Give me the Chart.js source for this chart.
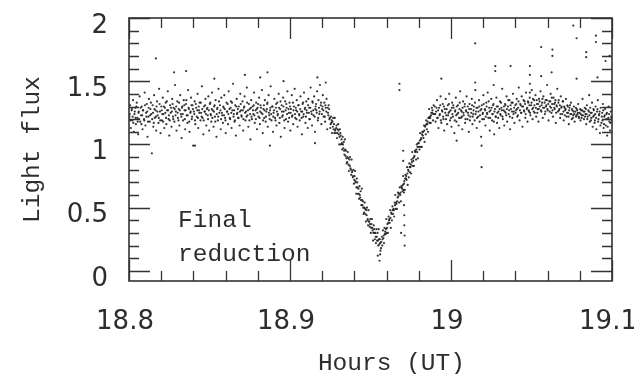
<!DOCTYPE html>
<html lang="en">
<head>
    <meta charset="UTF-8">
    <title>Light flux - final reduction</title>
    <style>
        body {
            margin: 0;
            padding: 0;
            background: #ffffff;
        }
        #chart {
            display: block;
        }
    </style>
</head>
<body>

    <canvas id="chart" width="634" height="374"></canvas>

    <script src="https://cdn.jsdelivr.net/npm/chart.js"></script>
    <script>
        // [hours UT, light flux]
        const leftBand = [
            [18.8003,1.22],[18.8007,1.31],[18.8012,1.13],[18.8016,1.27],[18.8021,1.19],[18.8025,1.35],[18.8030,1.10],[18.8034,1.24],[18.8039,1.29],[18.8043,1.16],
            [18.8048,1.33],[18.8052,1.21],[18.8057,1.08],[18.8061,1.26],[18.8066,1.38],[18.8070,1.18],[18.8075,1.23],[18.8079,1.30],[18.8084,1.12],[18.8088,1.27],
            [18.8093,1.20],[18.8097,1.41],[18.8102,1.15],[18.8106,1.25],[18.8111,1.32],[18.8115,1.06],[18.8120,1.22],[18.8124,1.36],[18.8129,1.18],[18.8133,1.28],
            [18.8138,1.24],[18.8142,0.93],[18.8147,1.31],[18.8151,1.14],[18.8156,1.39],[18.8160,1.21],[18.8165,1.27],[18.8169,1.11],[18.8174,1.34],[18.8178,1.23],
            [18.8183,1.17],[18.8187,1.44],[18.8192,1.26],[18.8196,1.09],[18.8201,1.30],[18.8205,1.19],[18.8210,1.37],[18.8214,1.24],[18.8219,1.13],[18.8223,1.29],
            [18.8228,1.33],[18.8232,1.16],[18.8237,1.27],[18.8241,1.42],[18.8246,1.20],[18.8250,1.07],[18.8255,1.31],[18.8259,1.25],[18.8264,1.14],[18.8268,1.36],
            [18.8273,1.22],[18.8277,1.29],[18.8282,1.18],[18.8286,1.47],[18.8291,1.26],[18.8295,1.11],[18.8300,1.34],[18.8304,1.21],[18.8309,1.28],[18.8313,1.15],
            [18.8318,1.39],[18.8322,1.24],[18.8327,1.05],[18.8331,1.30],[18.8336,1.19],[18.8340,1.35],[18.8345,1.27],[18.8349,1.12],[18.8354,1.32],[18.8358,1.23],
            [18.8363,1.17],[18.8367,1.43],[18.8372,1.28],[18.8376,1.10],[18.8381,1.25],[18.8385,1.37],[18.8390,1.20],[18.8394,1.31],[18.8399,0.99],[18.8403,1.26],
            [18.8408,1.34],[18.8412,1.16],[18.8417,1.29],[18.8421,1.22],[18.8426,1.40],[18.8430,1.13],[18.8435,1.27],[18.8439,1.33],[18.8444,1.19],[18.8448,1.25],
            [18.8453,1.46],[18.8457,1.21],[18.8462,1.08],[18.8466,1.30],[18.8471,1.26],[18.8475,1.36],[18.8480,1.15],[18.8484,1.28],[18.8489,1.23],[18.8493,1.38],
            [18.8498,1.11],[18.8502,1.32],[18.8507,1.24],[18.8511,1.18],[18.8516,1.41],[18.8520,1.27],[18.8525,1.14],[18.8529,1.30],[18.8534,1.22],[18.8538,1.35],
            [18.8543,1.06],[18.8547,1.28],[18.8552,1.19],[18.8556,1.44],[18.8561,1.25],[18.8565,1.31],[18.8570,1.12],[18.8574,1.37],[18.8579,1.23],[18.8583,1.17],
            [18.8588,1.29],[18.8592,1.39],[18.8597,1.21],[18.8601,1.09],[18.8606,1.33],[18.8610,1.26],[18.8615,1.16],[18.8619,1.42],[18.8624,1.28],[18.8628,1.20],
            [18.8633,1.34],[18.8637,1.13],[18.8642,1.27],[18.8646,1.48],[18.8651,1.24],[18.8655,1.18],[18.8660,1.31],[18.8664,1.07],[18.8669,1.36],[18.8673,1.25],
            [18.8678,1.21],[18.8682,1.30],[18.8687,1.15],[18.8691,1.40],[18.8696,1.27],[18.8700,1.22],[18.8705,1.34],[18.8709,1.11],[18.8714,1.29],[18.8718,1.38],
            [18.8723,1.19],[18.8727,1.26],[18.8732,1.45],[18.8736,1.23],[18.8741,1.14],[18.8745,1.32],[18.8750,1.28],[18.8754,1.04],[18.8759,1.35],[18.8763,1.20],
            [18.8768,1.30],[18.8772,1.24],[18.8777,1.41],[18.8781,1.17],[18.8786,1.27],[18.8790,1.33],[18.8795,1.12],[18.8799,1.29],[18.8804,1.22],[18.8808,1.37],
            [18.8813,1.16],[18.8817,1.31],[18.8822,1.25],[18.8826,1.43],[18.8831,1.09],[18.8835,1.28],[18.8840,1.21],[18.8844,1.35],[18.8849,1.18],[18.8853,1.26],
            [18.8858,1.32],[18.8862,1.14],[18.8867,1.39],[18.8871,1.23],[18.8876,1.27],[18.8880,1.46],[18.8885,1.19],[18.8889,1.30],[18.8894,1.10],[18.8898,1.25],
            [18.8903,1.36],[18.8907,1.21],[18.8912,1.29],[18.8916,1.15],[18.8921,1.33],[18.8925,1.24],[18.8930,1.40],[18.8934,1.17],[18.8939,1.28],[18.8943,1.06],
            [18.8948,1.31],[18.8952,1.22],[18.8957,1.37],[18.8961,1.26],[18.8966,1.13],[18.8970,1.34],[18.8975,1.20],[18.8979,1.29],[18.8984,1.42],[18.8988,1.18],
            [18.8993,1.25],[18.8997,1.33],[18.9002,1.11],[18.9006,1.28],[18.9011,1.39],[18.9015,1.23],[18.9020,1.16],[18.9024,1.30],[18.9029,1.44],[18.9033,1.21],
            [18.9038,1.27],[18.9042,1.35],[18.9047,1.14],[18.9051,1.31],[18.9056,1.24],[18.9060,1.19],[18.9065,1.38],[18.9069,1.26],[18.9074,1.08],[18.9078,1.32],
            [18.9083,1.22],[18.9087,1.41],[18.9092,1.28],[18.9096,1.17],[18.9101,1.34],[18.9105,1.25],[18.9110,1.13],[18.9114,1.36],[18.9119,1.29],[18.9123,1.20],
            [18.9128,1.45],[18.9132,1.26],[18.9137,1.15],[18.9141,1.33],[18.9146,1.23],[18.9150,1.38],[18.9155,1.10],[18.9159,1.30],[18.9164,1.27],[18.9168,1.42],
            [18.9173,1.19],[18.9177,1.35],[18.9182,1.24],[18.9186,1.47],[18.9191,1.31],[18.9195,1.16],[18.9200,1.28],[18.9204,1.39],[18.9209,1.22],[18.9213,1.33],
            [18.9218,1.18],[18.9222,1.29],[18.9227,1.36],[18.9231,1.12],[18.9236,1.25],[18.9240,1.31],[18.9245,1.20]
        ];

        // denser middle of the left plateau
        const leftCore = [
            [18.8005,1.24],[18.8010,1.19],[18.8018,1.28],[18.8023,1.22],[18.8027,1.17],[18.8036,1.26],[18.8041,1.21],[18.8046,1.30],[18.8054,1.18],[18.8059,1.25],
            [18.8063,1.20],[18.8072,1.29],[18.8077,1.16],[18.8082,1.23],[18.8086,1.27],[18.8095,1.19],[18.8099,1.31],[18.8108,1.22],[18.8113,1.26],[18.8118,1.18],
            [18.8122,1.29],[18.8131,1.23],[18.8136,1.33],[18.8144,1.20],[18.8149,1.25],[18.8154,1.17],[18.8158,1.28],[18.8167,1.22],[18.8171,1.30],[18.8176,1.26],
            [18.8185,1.21],[18.8190,1.32],[18.8194,1.19],[18.8203,1.27],[18.8207,1.24],[18.8212,1.18],[18.8217,1.30],[18.8226,1.25],[18.8230,1.21],[18.8235,1.34],
            [18.8243,1.27],[18.8248,1.23],[18.8253,1.19],[18.8261,1.29],[18.8266,1.26],[18.8271,1.32],[18.8275,1.20],[18.8284,1.28],[18.8289,1.23],[18.8293,1.30],
            [18.8302,1.25],[18.8307,1.19],[18.8311,1.33],[18.8316,1.27],[18.8325,1.22],[18.8329,1.29],[18.8334,1.24],[18.8343,1.31],[18.8347,1.20],[18.8352,1.27],
            [18.8356,1.35],[18.8365,1.23],[18.8370,1.29],[18.8374,1.18],[18.8383,1.26],[18.8388,1.31],[18.8392,1.22],[18.8397,1.28],[18.8406,1.24],[18.8410,1.19],
            [18.8415,1.32],[18.8424,1.27],[18.8428,1.21],[18.8433,1.30],[18.8437,1.25],[18.8446,1.33],[18.8451,1.22],[18.8455,1.28],[18.8464,1.19],[18.8469,1.26],
            [18.8473,1.31],[18.8478,1.24],[18.8487,1.29],[18.8491,1.20],[18.8496,1.27],[18.8505,1.33],[18.8509,1.23],[18.8514,1.28],[18.8518,1.21],[18.8527,1.26],
            [18.8532,1.31],[18.8536,1.18],[18.8545,1.24],[18.8550,1.29],[18.8554,1.22],[18.8559,1.34],[18.8568,1.27],[18.8572,1.20],[18.8577,1.25],[18.8586,1.30],
            [18.8590,1.23],[18.8595,1.28],[18.8599,1.19],[18.8608,1.26],[18.8613,1.32],[18.8617,1.24],[18.8626,1.21],[18.8631,1.29],[18.8635,1.25],[18.8640,1.33],
            [18.8649,1.22],[18.8653,1.27],[18.8658,1.19],[18.8667,1.30],[18.8671,1.24],[18.8676,1.28],[18.8680,1.21],[18.8689,1.26],[18.8694,1.32],[18.8698,1.23],
            [18.8707,1.27],[18.8711,1.20],[18.8716,1.30],[18.8721,1.25],[18.8730,1.22],[18.8734,1.33],[18.8739,1.27],[18.8748,1.19],[18.8752,1.24],[18.8757,1.29],
            [18.8761,1.22],[18.8770,1.27],[18.8775,1.31],[18.8779,1.23],[18.8788,1.20],[18.8793,1.28],[18.8797,1.25],[18.8802,1.32],[18.8811,1.21],[18.8815,1.26],
            [18.8820,1.29],[18.8829,1.24],[18.8833,1.19],[18.8838,1.31],[18.8842,1.27],[18.8851,1.22],[18.8856,1.28],[18.8860,1.33],[18.8869,1.25],[18.8874,1.20],
            [18.8878,1.29],[18.8883,1.24],[18.8892,1.30],[18.8896,1.22],[18.8901,1.27],[18.8910,1.19],[18.8914,1.32],[18.8919,1.26],[18.8923,1.23],[18.8932,1.29],
            [18.8937,1.21],[18.8941,1.34],[18.8950,1.26],[18.8955,1.23],[18.8959,1.30],[18.8964,1.19],[18.8973,1.27],[18.8977,1.32],[18.8982,1.24],[18.8991,1.28],
            [18.8995,1.21],[18.9000,1.30],[18.9004,1.25],[18.9013,1.22],[18.9018,1.33],[18.9022,1.27],[18.9031,1.24],[18.9036,1.29],[18.9040,1.20],[18.9045,1.26],
            [18.9054,1.31],[18.9058,1.23],[18.9063,1.28],[18.9072,1.21],[18.9076,1.26],[18.9081,1.33],[18.9085,1.24],[18.9094,1.29],[18.9099,1.22],[18.9103,1.27],
            [18.9112,1.31],[18.9117,1.25],[18.9121,1.20],[18.9126,1.29],[18.9135,1.24],[18.9139,1.34],[18.9144,1.27],[18.9153,1.22],[18.9157,1.28],[18.9162,1.32],
            [18.9166,1.25],[18.9175,1.21],[18.9180,1.29],[18.9184,1.26],[18.9193,1.33],[18.9198,1.24],[18.9202,1.30],[18.9207,1.27],[18.9216,1.22],[18.9220,1.31],
            [18.9225,1.26],[18.9234,1.29],[18.9238,1.23],[18.9243,1.28],[18.9247,1.21]
        ];

        const dipDown = [
            [18.9250,1.13],[18.9254,1.22],[18.9257,1.17],[18.9261,1.09],[18.9264,1.18],[18.9268,1.21],[18.9271,1.12],[18.9275,1.09],[18.9278,1.21],[18.9282,1.12],
            [18.9285,1.09],[18.9289,1.15],[18.9292,1.05],[18.9296,1.12],[18.9299,1.16],[18.9303,1.08],[18.9306,1.00],[18.9310,1.12],[18.9313,1.09],[18.9317,1.00],
            [18.9320,1.04],[18.9324,0.96],[18.9327,1.06],[18.9331,0.97],[18.9334,1.02],[18.9338,0.92],[18.9341,1.04],[18.9345,0.91],[18.9348,0.95],[18.9352,0.85],
            [18.9355,0.86],[18.9359,0.94],[18.9362,0.89],[18.9366,0.79],[18.9369,0.88],[18.9373,0.90],[18.9376,0.81],[18.9380,0.76],[18.9383,0.88],[18.9387,0.79],
            [18.9390,0.74],[18.9394,0.80],[18.9397,0.69],[18.9401,0.75],[18.9404,0.79],[18.9408,0.70],[18.9411,0.61],[18.9415,0.73],[18.9418,0.70],[18.9422,0.61],
            [18.9425,0.65],[18.9429,0.57],[18.9432,0.67],[18.9436,0.58],[18.9439,0.63],[18.9443,0.52],[18.9446,0.65],[18.9450,0.52],[18.9453,0.55],[18.9457,0.45],
            [18.9460,0.46],[18.9464,0.54],[18.9467,0.49],[18.9471,0.39],[18.9474,0.48],[18.9478,0.50],[18.9481,0.40],[18.9485,0.36],[18.9488,0.48],[18.9492,0.39],
            [18.9495,0.35],[18.9499,0.41],[18.9502,0.30],[18.9506,0.37],[18.9509,0.41],[18.9513,0.32],[18.9516,0.24],[18.9520,0.36],[18.9523,0.33],[18.9527,0.25],
            [18.9530,0.30],[18.9534,0.22],[18.9537,0.33],[18.9541,0.24],[18.9544,0.30],[18.9548,0.20],[18.9551,0.33],[18.9555,0.21],[18.9558,0.25],[18.9562,0.16],
            [18.9565,0.18]
        ];

        const dipUp = [
            [18.9570,0.27],[18.9573,0.20],[18.9577,0.32],[18.9580,0.26],[18.9584,0.22],[18.9587,0.34],[18.9591,0.31],[18.9594,0.29],[18.9598,0.41],[18.9601,0.30],
            [18.9605,0.37],[18.9608,0.30],[18.9612,0.43],[18.9615,0.40],[18.9619,0.38],[18.9622,0.48],[18.9626,0.34],[18.9629,0.46],[18.9633,0.40],[18.9636,0.51],
            [18.9640,0.45],[18.9643,0.49],[18.9647,0.43],[18.9650,0.54],[18.9654,0.60],[18.9657,0.49],[18.9661,0.53],[18.9664,0.49],[18.9668,0.58],[18.9671,0.62],
            [18.9675,0.61],[18.9678,0.54],[18.9682,0.66],[18.9685,0.60],[18.9689,0.55],[18.9692,0.67],[18.9696,0.65],[18.9699,0.63],[18.9703,0.75],[18.9706,0.64],
            [18.9710,0.71],[18.9713,0.64],[18.9717,0.76],[18.9720,0.73],[18.9724,0.72],[18.9727,0.82],[18.9731,0.68],[18.9734,0.80],[18.9738,0.74],[18.9741,0.85],
            [18.9745,0.78],[18.9748,0.82],[18.9752,0.77],[18.9755,0.88],[18.9759,0.94],[18.9762,0.83],[18.9766,0.87],[18.9769,0.83],[18.9773,0.91],[18.9776,0.95],
            [18.9780,0.95],[18.9783,0.88],[18.9787,1.00],[18.9790,0.94],[18.9794,0.89],[18.9797,1.01],[18.9801,0.98],[18.9804,0.96],[18.9808,1.09],[18.9811,0.98],
            [18.9815,1.05],[18.9818,0.98],[18.9822,1.10],[18.9825,1.07],[18.9829,1.05],[18.9832,1.15],[18.9836,1.02],[18.9839,1.14],[18.9843,1.08],[18.9846,1.19],
            [18.9850,1.12],[18.9853,1.16],[18.9857,1.10],[18.9860,1.21],[18.9864,1.28],[18.9867,1.17],[18.9871,1.21],[18.9874,1.17],[18.9878,1.25],[18.9881,1.29],
            [18.9885,1.27],[18.9888,1.19],[18.9892,1.31],[18.9895,1.24]
        ];

        // denser middle line through the eclipse
        const dipCore = [
            [18.9252,1.16],[18.9259,1.19],[18.9266,1.14],[18.9273,1.16],[18.9280,1.11],[18.9287,1.13],[18.9294,1.09],[18.9301,1.11],[18.9308,1.06],[18.9315,1.07],
            [18.9322,1.01],[18.9329,1.00],[18.9336,0.95],[18.9343,0.96],[18.9350,0.89],[18.9357,0.90],[18.9364,0.84],[18.9371,0.83],[18.9378,0.80],[18.9385,0.78],
            [18.9392,0.75],[18.9399,0.72],[18.9406,0.71],[18.9413,0.66],[18.9420,0.66],[18.9427,0.61],[18.9434,0.60],[18.9441,0.56],[18.9448,0.56],[18.9455,0.50],
            [18.9462,0.50],[18.9469,0.45],[18.9476,0.44],[18.9483,0.41],[18.9490,0.39],[18.9497,0.37],[18.9504,0.34],[18.9511,0.34],[18.9518,0.30],[18.9525,0.30],
            [18.9532,0.27],[18.9539,0.27],[18.9546,0.24],[18.9553,0.25],[18.9560,0.22],[18.9567,0.23],[18.9575,0.25],[18.9582,0.28],[18.9589,0.29],[18.9596,0.33],
            [18.9603,0.34],[18.9610,0.38],[18.9617,0.41],[18.9624,0.42],[18.9631,0.45],[18.9638,0.48],[18.9645,0.48],[18.9652,0.52],[18.9659,0.54],[18.9666,0.55],
            [18.9673,0.59],[18.9680,0.61],[18.9687,0.62],[18.9694,0.66],[18.9701,0.68],[18.9708,0.69],[18.9715,0.73],[18.9722,0.75],[18.9729,0.77],[18.9736,0.79],
            [18.9743,0.82],[18.9750,0.84],[18.9757,0.86],[18.9764,0.89],[18.9771,0.90],[18.9778,0.94],[18.9785,0.96],[18.9792,0.98],[18.9799,1.01],[18.9806,1.03],
            [18.9813,1.04],[18.9820,1.08],[18.9827,1.10],[18.9834,1.11],[18.9841,1.15],[18.9848,1.16],[18.9855,1.18],[18.9862,1.21],[18.9869,1.22],[18.9876,1.23],
            [18.9883,1.25],[18.9890,1.24]
        ];

        const rightBand = [
            [18.9899,1.30],[18.9904,1.18],[18.9908,1.26],[18.9913,1.35],[18.9917,1.21],[18.9922,1.13],[18.9926,1.29],[18.9931,1.24],[18.9935,1.38],[18.9940,1.17],
            [18.9944,1.27],[18.9949,1.32],[18.9953,1.20],[18.9958,1.11],[18.9962,1.28],[18.9967,1.36],[18.9971,1.23],[18.9976,1.16],[18.9980,1.31],[18.9985,1.25],
            [18.9989,1.40],[18.9994,1.19],[18.9998,1.27],[19.0003,1.14],[19.0007,1.33],[19.0012,1.22],[19.0016,1.29],[19.0021,1.09],[19.0025,1.26],[19.0030,1.37],
            [19.0034,1.18],[19.0039,1.24],[19.0043,1.31],[19.0048,1.15],[19.0052,1.28],[19.0057,1.42],[19.0061,1.21],[19.0066,1.26],[19.0070,1.12],[19.0075,1.34],
            [19.0079,1.23],[19.0084,1.30],[19.0088,1.17],[19.0093,1.27],[19.0097,1.38],[19.0102,1.20],[19.0106,1.25],[19.0111,1.10],[19.0115,1.32],[19.0120,1.22],
            [19.0124,1.28],[19.0129,1.36],[19.0133,1.16],[19.0138,1.24],[19.0142,1.30],[19.0147,1.19],[19.0151,1.43],[19.0156,1.26],[19.0160,1.13],[19.0165,1.29],
            [19.0169,1.22],[19.0174,1.35],[19.0178,1.18],[19.0183,1.27],[19.0187,1.06],[19.0192,1.31],[19.0196,1.24],[19.0201,1.39],[19.0205,1.20],[19.0210,1.28],
            [19.0214,1.15],[19.0219,1.33],[19.0223,1.25],[19.0228,1.41],[19.0232,1.21],[19.0237,1.29],[19.0241,1.11],[19.0246,1.27],[19.0250,1.36],[19.0255,1.19],
            [19.0259,1.24],[19.0264,1.32],[19.0268,1.08],[19.0273,1.28],[19.0277,1.22],[19.0282,1.37],[19.0286,1.17],[19.0291,1.30],[19.0295,1.26],[19.0300,1.13],
            [19.0304,1.34],[19.0309,1.23],[19.0313,1.29],[19.0318,1.44],[19.0322,1.20],[19.0327,1.27],[19.0331,1.15],[19.0336,1.32],[19.0340,1.25],[19.0345,1.38],
            [19.0349,1.18],[19.0354,1.30],[19.0358,1.24],[19.0363,1.35],[19.0367,1.12],[19.0372,1.28],[19.0376,1.33],[19.0381,1.21],[19.0385,1.40],[19.0390,1.26],
            [19.0394,1.17],[19.0399,1.31],[19.0403,1.27],[19.0408,1.36],[19.0412,1.22],[19.0417,1.29],[19.0421,1.45],[19.0426,1.19],[19.0430,1.32],[19.0435,1.25],
            [19.0439,1.38],[19.0444,1.14],[19.0448,1.30],[19.0453,1.27],[19.0457,1.34],[19.0462,1.21],[19.0466,1.41],[19.0471,1.28],[19.0475,1.18],[19.0480,1.33],
            [19.0484,1.26],[19.0489,1.37],[19.0493,1.23],[19.0498,1.31],[19.0502,1.43],[19.0507,1.20],[19.0511,1.29],[19.0516,1.35],[19.0520,1.25],[19.0525,1.39],
            [19.0529,1.22],[19.0534,1.32],[19.0538,1.28],[19.0543,1.18],[19.0547,1.36],[19.0552,1.30],[19.0556,1.42],[19.0561,1.26],[19.0565,1.33],[19.0570,1.21],
            [19.0574,1.38],[19.0579,1.29],[19.0583,1.24],[19.0588,1.35],[19.0592,1.31],[19.0597,1.47],[19.0601,1.27],[19.0606,1.19],[19.0610,1.34],[19.0615,1.30],
            [19.0619,1.40],[19.0624,1.25],[19.0628,1.32],[19.0633,1.22],[19.0637,1.37],[19.0642,1.29],[19.0646,1.33],[19.0651,1.17],[19.0655,1.31],[19.0660,1.44],
            [19.0664,1.26],[19.0669,1.35],[19.0673,1.28],[19.0678,1.21],[19.0682,1.38],[19.0687,1.30],[19.0691,1.24],[19.0696,1.34],[19.0700,1.19],[19.0705,1.29],
            [19.0709,1.27],[19.0714,1.36],[19.0718,1.22],[19.0723,1.31],[19.0727,1.25],[19.0732,1.16],[19.0736,1.29],[19.0741,1.24],[19.0745,1.33],[19.0750,1.20],
            [19.0754,1.27],[19.0759,1.23],[19.0763,1.30],[19.0768,1.18],[19.0772,1.26],[19.0777,1.22],[19.0781,1.28],[19.0786,1.24],[19.0790,1.32],[19.0795,1.21],
            [19.0799,1.25],[19.0804,1.19],[19.0808,1.27],[19.0813,1.23],[19.0817,1.36],[19.0822,1.26],[19.0826,1.20],[19.0831,1.29],[19.0835,1.24],[19.0840,1.16],
            [19.0844,1.31],[19.0849,1.22],[19.0853,1.27],[19.0858,1.39],[19.0862,1.18],[19.0867,1.25],[19.0871,1.21],[19.0876,1.33],[19.0880,1.14],[19.0885,1.28],
            [19.0889,1.23],[19.0894,1.19],[19.0898,1.30],[19.0903,1.12],[19.0907,1.26],[19.0912,1.35],[19.0916,1.20],[19.0921,1.24],[19.0925,1.09],[19.0930,1.29],
            [19.0934,1.17],[19.0939,1.25],[19.0943,1.32],[19.0948,1.13],[19.0952,1.22],[19.0957,1.28],[19.0961,1.15],[19.0966,1.24],[19.0970,1.07],[19.0975,1.20],
            [19.0979,1.30],[19.0984,1.18],[19.0988,1.11],[19.0993,1.26],[19.0997,1.21]
        ];

        // denser middle of the right plateau
        const rightCore = [
            [18.9902,1.24],[18.9910,1.29],[18.9915,1.21],[18.9920,1.27],[18.9929,1.23],[18.9933,1.31],[18.9937,1.19],[18.9946,1.26],[18.9951,1.22],[18.9956,1.30],
            [18.9964,1.25],[18.9969,1.20],[18.9973,1.28],[18.9982,1.23],[18.9987,1.32],[18.9991,1.26],[19.0000,1.21],[19.0005,1.29],[19.0009,1.24],[19.0014,1.31],
            [19.0023,1.19],[19.0027,1.27],[19.0032,1.23],[19.0036,1.30],[19.0045,1.25],[19.0050,1.21],[19.0054,1.33],[19.0063,1.27],[19.0068,1.22],[19.0072,1.29],
            [19.0077,1.25],[19.0086,1.32],[19.0090,1.20],[19.0095,1.26],[19.0104,1.30],[19.0108,1.23],[19.0113,1.28],[19.0117,1.19],[19.0126,1.25],[19.0131,1.31],
            [19.0135,1.22],[19.0140,1.27],[19.0149,1.33],[19.0153,1.24],[19.0158,1.29],[19.0162,1.21],[19.0171,1.26],[19.0176,1.30],[19.0180,1.23],[19.0189,1.28],
            [19.0194,1.20],[19.0198,1.25],[19.0203,1.32],[19.0212,1.27],[19.0216,1.22],[19.0221,1.30],[19.0225,1.24],[19.0234,1.34],[19.0239,1.26],[19.0243,1.21],
            [19.0252,1.29],[19.0257,1.24],[19.0261,1.31],[19.0266,1.18],[19.0270,1.26],[19.0279,1.22],[19.0284,1.30],[19.0288,1.25],[19.0293,1.21],[19.0302,1.28],
            [19.0306,1.24],[19.0311,1.33],[19.0316,1.27],[19.0320,1.22],[19.0329,1.30],[19.0334,1.26],[19.0338,1.31],[19.0343,1.23],[19.0347,1.28],[19.0356,1.35],
            [19.0361,1.27],[19.0365,1.22],[19.0370,1.31],[19.0379,1.26],[19.0383,1.33],[19.0388,1.24],[19.0392,1.29],[19.0401,1.25],[19.0406,1.32],[19.0410,1.28],
            [19.0415,1.23],[19.0419,1.34],[19.0428,1.27],[19.0433,1.31],[19.0437,1.25],[19.0442,1.30],[19.0451,1.35],[19.0455,1.26],[19.0460,1.32],[19.0464,1.24],
            [19.0473,1.29],[19.0478,1.34],[19.0482,1.27],[19.0487,1.31],[19.0491,1.25],[19.0500,1.33],[19.0505,1.28],[19.0509,1.36],[19.0514,1.26],[19.0518,1.31],
            [19.0527,1.29],[19.0532,1.35],[19.0536,1.25],[19.0541,1.32],[19.0545,1.28],[19.0550,1.34],[19.0559,1.27],[19.0563,1.31],[19.0568,1.36],[19.0572,1.29],
            [19.0581,1.33],[19.0586,1.26],[19.0590,1.30],[19.0595,1.35],[19.0599,1.28],[19.0604,1.32],[19.0613,1.26],[19.0617,1.34],[19.0622,1.29],[19.0626,1.37],
            [19.0631,1.27],[19.0640,1.32],[19.0644,1.28],[19.0649,1.35],[19.0653,1.25],[19.0658,1.30],[19.0667,1.33],[19.0671,1.27],[19.0676,1.31],[19.0680,1.24],
            [19.0685,1.29],[19.0694,1.34],[19.0698,1.26],[19.0703,1.30],[19.0707,1.23],[19.0712,1.28],[19.0721,1.25],[19.0725,1.30],[19.0730,1.22],[19.0734,1.27],
            [19.0739,1.31],[19.0748,1.24],[19.0752,1.28],[19.0757,1.21],[19.0761,1.26],[19.0766,1.24],[19.0775,1.29],[19.0779,1.23],[19.0784,1.27],[19.0788,1.25],
            [19.0793,1.22],[19.0802,1.28],[19.0806,1.24],[19.0811,1.21],[19.0815,1.27],[19.0820,1.23],[19.0829,1.26],[19.0833,1.22],[19.0838,1.28],[19.0842,1.24],
            [19.0847,1.20],[19.0856,1.26],[19.0860,1.23],[19.0865,1.29],[19.0869,1.19],[19.0874,1.25],[19.0883,1.22],[19.0887,1.27],[19.0892,1.17],[19.0896,1.24],
            [19.0901,1.21],[19.0910,1.28],[19.0914,1.18],[19.0919,1.23],[19.0923,1.26],[19.0928,1.15],[19.0937,1.22],[19.0941,1.19],[19.0946,1.27],[19.0950,1.16],
            [19.0955,1.23],[19.0964,1.20],[19.0968,1.25],[19.0973,1.14],[19.0977,1.21],[19.0982,1.24],[19.0991,1.17],[19.0995,1.22],[19.0999,1.19]
        ];

        const strayPoints = [
            [18.8167,1.68],[18.8280,1.57],[18.8355,1.58],[18.8530,1.52],[18.8720,1.55],[18.8815,1.53],[18.8860,1.57],[18.8960,1.50],
            [18.8410,0.99],[18.8875,0.99],[18.9155,1.01],[18.9170,1.53],[18.9222,1.49],
            [18.9545,0.12],[18.9556,0.08],[18.9560,0.13],
            [18.9680,1.48],[18.9680,1.43],[18.9703,0.95],[18.9703,0.87],[18.9708,0.62],[18.9708,0.52],[18.9710,0.44],[18.9710,0.36],
            [18.9712,0.28],[18.9712,0.20],[18.9690,0.30],
            [18.9940,1.52],[19.0035,1.03],[19.0150,1.80],[19.0150,1.49],[19.0190,0.99],[19.0190,0.82],[19.0275,1.62],[19.0275,1.58],
            [19.0265,1.47],[19.0370,1.62],[19.0490,1.62],[19.0490,1.55],[19.0490,1.48],[19.0490,1.41],[19.0560,1.77],[19.0560,1.54],
            [19.0630,1.75],[19.0630,1.70],[19.0625,1.57],[19.0760,1.94],[19.0780,1.84],[19.0780,1.52],[19.0840,1.73],[19.0840,1.69],
            [19.0900,1.86],[19.0900,1.81],[19.0910,1.53],[19.0960,1.66],[19.0985,1.70]
        ];

        const xTickValues = [18.8, 18.9, 19.0, 19.1];
        const xMinorValues = [18.82, 18.84, 18.86, 18.88, 18.92, 18.94, 18.96, 18.98, 19.02, 19.04, 19.06, 19.08];
        const yTickValues = [0, 0.5, 1, 1.5, 2];
        const yMinorValues = [0.1, 0.2, 0.3, 0.4, 0.6, 0.7, 0.8, 0.9, 1.1, 1.2, 1.3, 1.4, 1.6, 1.7, 1.8, 1.9];

        const allPoints = [].concat(leftBand, leftCore, dipDown, dipUp, dipCore, rightBand, rightCore, strayPoints)
            .map(p => ({ x: p[0], y: p[1] }));

        const ink = '#2d2d2d';
        const monoFont = "'Liberation Mono', 'DejaVu Sans Mono', monospace";

        // frame with inward ticks on all four sides + the in-plot note + x title
        const frameTicks = {
            id: 'frameTicks',
            afterDatasetsDraw(chart) {
                const ctx = chart.ctx;
                const a = chart.chartArea;
                const xs = chart.scales.x;
                const ys = chart.scales.y;
                ctx.save();
                ctx.strokeStyle = '#333333';
                ctx.lineWidth = 1.6;
                ctx.strokeRect(a.left, a.top, a.right - a.left, a.bottom - a.top);

                ctx.lineWidth = 1.3;
                ctx.beginPath();
                const xMark = (v, len) => {
                    const px = Math.round(xs.getPixelForValue(v)) + 0.5;
                    ctx.moveTo(px, a.bottom); ctx.lineTo(px, a.bottom - len);
                    ctx.moveTo(px, a.top); ctx.lineTo(px, a.top + len);
                };
                const yMark = (v, len) => {
                    const py = Math.round(ys.getPixelForValue(v)) + 0.5;
                    ctx.moveTo(a.left, py); ctx.lineTo(a.left + len, py);
                    ctx.moveTo(a.right, py); ctx.lineTo(a.right - len, py);
                };
                xTickValues.forEach(v => xMark(v, 21));
                xMinorValues.forEach(v => xMark(v, 10));
                yTickValues.forEach(v => yMark(v, 21));
                yMinorValues.forEach(v => yMark(v, 10));
                ctx.stroke();

                ctx.fillStyle = ink;
                ctx.font = '24.5px ' + monoFont;
                ctx.textAlign = 'left';
                ctx.textBaseline = 'alphabetic';
                const nx = xs.getPixelForValue(18.8305);
                ctx.fillText('Final', nx, ys.getPixelForValue(0.345));
                ctx.fillText('reduction', nx, ys.getPixelForValue(0.075));

                ctx.textAlign = 'center';
                ctx.fillText('Hours (UT)', xs.getPixelForValue(18.963), chart.height - 4);
                ctx.restore();
            }
        };

        // drop the automatic label overhang so the plot box keeps its place
        const noOverhang = s => {
            s.paddingTop = 0;
            s.paddingBottom = 0;
            s.paddingLeft = 0;
            s.paddingRight = 0;
        };

        new Chart(document.getElementById('chart'), {
            type: 'scatter',
            data: {
                datasets: [{
                    data: allPoints,
                    pointRadius: 1.1,
                    pointBorderWidth: 0,
                    pointBackgroundColor: 'rgba(30,30,30,0.9)',
                    pointHoverRadius: 1.1
                }]
            },
            options: {
                responsive: false,
                animation: false,
                devicePixelRatio: 1,
                layout: { padding: { top: 18, right: 22, left: 0, bottom: 0 } },
                plugins: {
                    legend: { display: false },
                    tooltip: { enabled: false }
                },
                scales: {
                    x: {
                        type: 'linear',
                        min: 18.8,
                        max: 19.1,
                        afterBuildTicks: s => { s.ticks = xTickValues.map(v => ({ value: v })); },
                        afterFit: s => { s.height = 93; noOverhang(s); },
                        grid: { display: false, drawTicks: false },
                        border: { display: false },
                        ticks: {
                            color: ink,
                            font: { family: "'DejaVu Sans', sans-serif", size: 26 },
                            padding: 26,
                            labelOffset: -4,
                            maxRotation: 0,
                            callback: v => String(Math.round(v * 10) / 10)
                        }
                    },
                    y: {
                        min: -0.08,
                        max: 2,
                        afterBuildTicks: s => { s.ticks = yTickValues.map(v => ({ value: v })); },
                        afterFit: s => { s.width = 129; noOverhang(s); },
                        grid: { display: false, drawTicks: false },
                        border: { display: false },
                        ticks: {
                            color: ink,
                            font: { family: "'DejaVu Sans', sans-serif", size: 26 },
                            padding: 21,
                            labelOffset: 8,
                            callback: v => String(v)
                        },
                        title: {
                            display: true,
                            text: 'Light flux',
                            color: ink,
                            font: { family: monoFont, size: 24.5 },
                            padding: { top: 18, bottom: 0 }
                        }
                    }
                }
            },
            plugins: [frameTicks]
        });
    </script>

</body>
</html>
